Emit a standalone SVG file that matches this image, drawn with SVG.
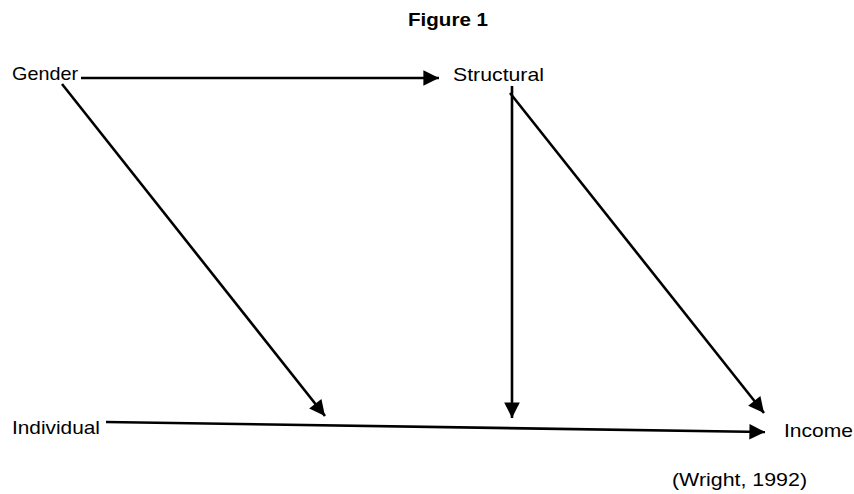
<svg xmlns="http://www.w3.org/2000/svg" width="854" height="494" viewBox="0 0 854 494">
<style>
text{font-family:"Liberation Sans",Arial,sans-serif;font-size:19px;fill:#000}
.t{font-weight:bold;font-size:19px}
.c line{stroke:#000;stroke-width:2.6;fill:none}
</style>
<defs>
<marker id="ah" viewBox="0 0 10 10" refX="10" refY="5" markerWidth="7" markerHeight="6" markerUnits="strokeWidth" orient="auto">
<path d="M0,0 L10,5 L0,10 Z" fill="#000"/>
</marker>
</defs>
<rect width="854" height="494" fill="#fff"/>
<text class="t" x="408" y="26" textLength="80" lengthAdjust="spacingAndGlyphs">Figure 1</text>
<g id="gender"><text x="12" y="80" textLength="66" lengthAdjust="spacingAndGlyphs">Gender</text></g>
<g id="structural"><text x="453" y="81" textLength="91" lengthAdjust="spacingAndGlyphs">Structural</text></g>
<g id="individual"><text x="12" y="434" textLength="88" lengthAdjust="spacingAndGlyphs">Individual</text></g>
<g id="income"><text x="784" y="437" textLength="69" lengthAdjust="spacingAndGlyphs">Income</text></g>
<g id="citation"><text x="672" y="486" textLength="135" lengthAdjust="spacingAndGlyphs">(Wright, 1992)</text></g>
<g class="c" id="connectors">
<line x1="81" y1="78" x2="439" y2="78" marker-end="url(#ah)"/>
<line x1="62" y1="84" x2="325" y2="416" marker-end="url(#ah)"/>
<line x1="512" y1="86" x2="512" y2="418" marker-end="url(#ah)"/>
<line x1="510" y1="93" x2="764" y2="413" marker-end="url(#ah)"/>
<line x1="106" y1="422" x2="765" y2="432" marker-end="url(#ah)"/>
</g>
</svg>
